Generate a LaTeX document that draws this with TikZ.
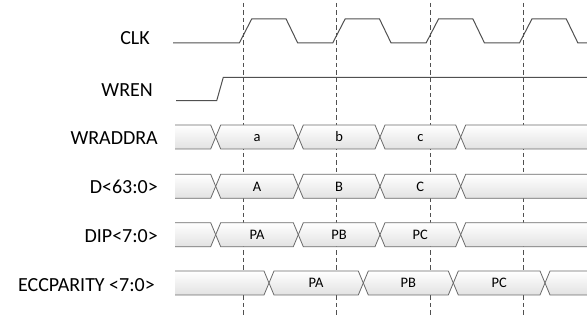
\documentclass[tikz,border=0pt]{standalone}
\usepackage{fontspec}
\setmainfont{Carlito}
\usetikzlibrary{positioning}
\definecolor{wavegray}{HTML}{505050}
\definecolor{busline}{HTML}{6A6A6A}
\definecolor{busfill}{HTML}{E2E2E2}

\begin{document}
\begin{tikzpicture}[x=1pt, y=-1pt,
    wave/.style={draw=wavegray, line width=1pt},
    busbox/.style={draw=busline, line width=0.8pt, top color=white, bottom color=busfill},
    guide/.style={draw=wavegray, line width=0.7pt, dash pattern=on 4.5pt off 3pt},
    signame/.style={anchor=base east, inner sep=0pt, font=\fontsize{20}{22}\selectfont},
    busval/.style={anchor=base, inner sep=0pt, font=\fontsize{14.5}{16}\selectfont}]
  \useasboundingbox (0,0) rectangle (587,320);

  % sampling edges
  \foreach \x in {243.5,336.8,430.1,523.4}
    \draw[guide] (\x,3) -- (\x,318);

  % signal names
  \node[signame] (clk)   at (150,45)    {CLK};
  \node[signame] (wren)  at (153,96.7)  {WREN};
  \node[signame] (addr)  at (158,145)   {WRADDRA};
  \node[signame] (data)  at (158,193.5) {D<63:0>};
  \node[signame] (dip)   at (158,242.5) {DIP<7:0>};
  \node[signame] (ecc)   at (155,291.5) {ECCPARITY <7:0>};

  % clock and write enable
  \draw[wave] (173,43) -- (239.3,43)
    \foreach \k in {0,1,2} { -- ++(12.4,-24) -- ++(34.4,0) -- ++(11.6,24) -- ++(35,0) }
    -- ++(12.4,-24) -- ++(34.4,0) -- ++(11.6,24) -- (587,43);
  \draw[wave] (176,100.7) -- (216.7,100.7) -- (223.3,77.3) -- (587,77.3);

  % input buses
  \foreach \row/\top/\vA/\vB/\vC in {addr/125/a/b/c, data/174.3/A/B/C, dip/222.7/PA/PB/PC} {
    \draw[busbox] (175,\top) -- (210.7,\top) -- (215.7,\top+12) -- (210.7,\top+24) -- (175,\top+24);
    \foreach \xa/\xb/\v [count=\i] in {215.7/298.3/\vA, 298.3/380/\vB, 380/460.7/\vC} {
      \draw[busbox] (\xa,\top+12) -- (\xa+5,\top) -- (\xb-5,\top) -- (\xb,\top+12)
        -- (\xb-5,\top+24) -- (\xa+5,\top+24) -- cycle;
      \node[busval] (\row-\i) at ({(\xa+\xb)/2},\top+16.8) {\v};
    }
    \draw[busbox] (587,\top) -- (465.7,\top) -- (460.7,\top+12) -- (465.7,\top+24) -- (587,\top+24);
  }

  % parity output
  \draw[busbox] (175,271) -- (264,271) -- (269,283) -- (264,295) -- (175,295);
  \foreach \xa/\xb/\v [count=\i] in {269/363.3/PA, 363.3/453.3/PB, 453.3/545/PC} {
    \draw[busbox] (\xa,283) -- (\xa+5,271) -- (\xb-5,271) -- (\xb,283)
      -- (\xb-5,295) -- (\xa+5,295) -- cycle;
    \node[busval] (ecc-\i) at ({(\xa+\xb)/2},287.8) {\v};
  }
  \draw[busbox] (587,271) -- (550,271) -- (545,283) -- (550,295) -- (587,295);
\end{tikzpicture}
\end{document}
